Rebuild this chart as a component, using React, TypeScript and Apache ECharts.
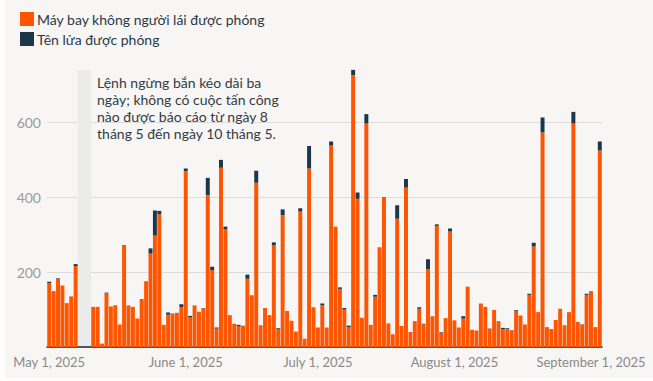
import React, { useEffect, useRef } from "react";
import * as echarts from "echarts";

// Daily categories: May 1, 2025 .. Sep 3, 2025
const START = { y: 2025, m: 4, d: 1 };
const DAY_COUNT = 126;
const MONTHS = ["January", "February", "March", "April", "May", "June", "July", "August", "September", "October", "November", "December"];
const categories: string[] = [];
for (let i = 0; i < DAY_COUNT; i++) {
  const dt = new Date(Date.UTC(START.y, START.m, START.d + i));
  categories.push(`${MONTHS[dt.getUTCMonth()]} ${dt.getUTCDate()}, ${dt.getUTCFullYear()}`);
}

const tickLabels = ["May 1, 2025", "June 1, 2025", "July 1, 2025", "August 1, 2025", "September 1, 2025"];

// Drones launched per day (null = no reported attacks, ceasefire May 8-10)
const drones: (number | null)[] = [
  170, 149, 181, 164, 117, 135, 216, null, null, null,
  107, 107, 9, 143, 108, 110, 60, 272, 110, 107,
  76, 128, 174, 249, 297, 354, 59, 86, 88, 90,
  106, 469, 79, 111, 94, 103, 405, 205, 49, 478,
  314, 85, 62, 55, 57, 182, 138, 438, 58, 104,
  85, 271, 47, 351, 96, 70, 41, 361, 22, 476,
  106, 52, 112, 52, 537, 321, 155, 100, 53, 725,
  395, 78, 596, 59, 134, 266, 400, 63, 34, 342,
  56, 425, 40, 69, 102, 60, 207, 82, 323, 36,
  77, 308, 71, 52, 76, 161, 46, 44, 116, 107,
  47, 99, 69, 48, 48, 44, 95, 84, 60, 139,
  268, 93, 572, 53, 48, 72, 102, 58, 93, 596,
  67, 58, 139, 149, 53, 524,
];

// Missiles launched per day
const missiles: (number | null)[] = [
  4, 0, 2, 0, 0, 0, 5, null, null, null,
  0, 0, 0, 2, 0, 1, 0, 0, 1, 0,
  0, 0, 1, 14, 67, 9, 0, 6, 1, 1,
  8, 7, 4, 0, 0, 1, 46, 9, 3, 21,
  7, 0, 0, 4, 0, 11, 0, 32, 0, 0,
  0, 8, 3, 16, 0, 0, 0, 9, 0, 60,
  0, 0, 4, 0, 11, 0, 4, 4, 4, 14,
  17, 0, 25, 0, 5, 0, 0, 0, 0, 36,
  0, 23, 0, 0, 4, 2, 27, 0, 4, 3,
  0, 8, 0, 0, 6, 0, 0, 0, 0, 0,
  2, 0, 0, 3, 2, 1, 3, 0, 0, 3,
  10, 0, 40, 0, 0, 0, 0, 0, 0, 31,
  0, 2, 3, 0, 0, 24,
];

const ceasefireStart = "May 8, 2025";
const ceasefireEnd = "May 10, 2025";
const annotation = "Lệnh ngừng bắn kéo dài ba\nngày; không có cuộc tấn công\nnào được báo cáo từ ngày 8\ntháng 5 đến ngày 10 tháng 5.";

const ORANGE = "#fe5502";
const NAVY = "#1d3648";
const FONT = "Lato, 'Noto Sans', sans-serif";

export default function App() {
  const ref = useRef<HTMLDivElement>(null);
  useEffect(() => {
    if (!ref.current) return;
    const chart = echarts.init(ref.current, undefined, { renderer: "svg" });
    chart.setOption({
      animation: false,
      textStyle: { fontFamily: FONT },
      legend: {
        orient: "vertical",
        left: 15,
        top: 7,
        itemWidth: 14,
        itemHeight: 14,
        itemGap: 6,
        icon: "rect",
        selectedMode: false,
        textStyle: { fontSize: 14, color: "#2b3845", fontFamily: FONT, padding: [0, 0, 0, -2] },
        data: ["Máy bay không người lái được phóng", "Tên lửa được phóng"],
      },
      grid: { left: 47, right: 51, top: 47, bottom: 34, containLabel: false },
      xAxis: {
        type: "category",
        data: categories,
        axisLine: { lineStyle: { color: "#222", width: 1.5 } },
        axisTick: { show: false },
        axisLabel: {
          interval: (_i: number, v: string) => tickLabels.includes(v),
          color: "#8a8a8a",
          fontSize: 13,
          margin: 8,
          fontFamily: FONT,
        },
      },
      yAxis: {
        type: "value",
        min: 0,
        max: 800,
        interval: 200,
        axisLine: { show: false },
        axisTick: { show: false },
        axisLabel: {
          color: "#9a9a9a",
          fontSize: 14,
          margin: 6,
          showMinLabel: false,
          showMaxLabel: false,
          fontFamily: FONT,
        },
        splitLine: { show: true, showMinLine: false, showMaxLine: false, lineStyle: { color: "#dddddd", width: 1 } },
      },
      series: [
        {
          name: "Máy bay không người lái được phóng",
          type: "bar",
          stack: "total",
          data: drones,
          barCategoryGap: "10%",
          itemStyle: { color: ORANGE },
        },
        {
          name: "Tên lửa được phóng",
          type: "bar",
          stack: "total",
          data: missiles,
          itemStyle: { color: NAVY },
        },
      ],
    });

    // Ceasefire shading + annotation, positioned through the chart's scales
    const totals = drones.map((d, i) => (d ?? 0) + (missiles[i] ?? 0));
    const maxTotal = Math.max(...totals);
    const i0 = categories.indexOf(ceasefireStart);
    const i1 = categories.indexOf(ceasefireEnd);
    const xa = chart.convertToPixel({ xAxisIndex: 0 }, categories[i0]) as number;
    const xb = chart.convertToPixel({ xAxisIndex: 0 }, categories[i1]) as number;
    const band = (xb - xa) / (i1 - i0);
    const yTop = chart.convertToPixel({ yAxisIndex: 0 }, maxTotal) as number;
    const yBase = chart.convertToPixel({ yAxisIndex: 0 }, 0) as number;
    const left = xa - band / 2;
    const right = xb + band / 2;
    chart.setOption({
      graphic: [
        {
          type: "rect",
          shape: { x: left, y: yTop, width: right - left, height: yBase - yTop - 1 },
          style: { fill: "#ebebea" },
          z: 1,
        },
        {
          type: "text",
          x: right + 6,
          y: yTop + 4,
          style: {
            text: annotation,
            font: `14px ${FONT}`,
            fill: "#333b44",
            lineHeight: 17,
          },
          z: 5,
        },
      ],
    });
    return () => chart.dispose();
  }, []);

  return (
    <div style={{ position: "fixed", left: 0, top: 0, width: 653, height: 381, background: "#ffffff" }}>
      <div style={{ position: "absolute", left: 5, top: 0, width: 648, height: 378, background: "#f7f6f4" }} />
      <div ref={ref} style={{ position: "absolute", left: 0, top: 0, width: 653, height: 381 }} />
    </div>
  );
}
